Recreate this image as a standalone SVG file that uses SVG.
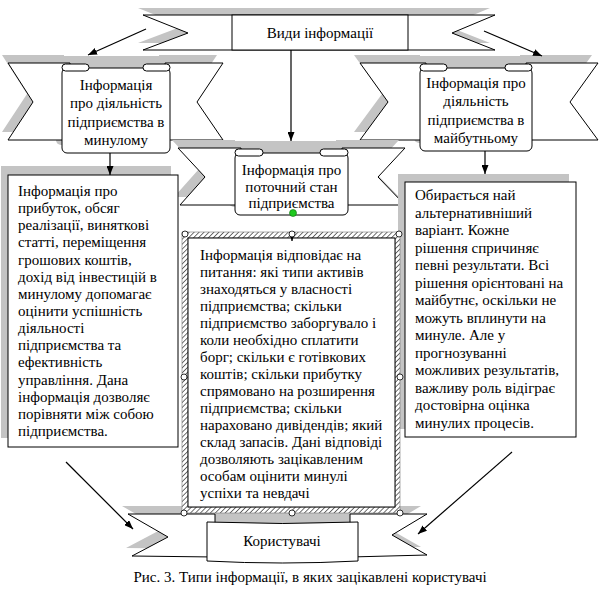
<svg xmlns="http://www.w3.org/2000/svg" width="600" height="591" viewBox="0 0 600 591">
<defs>
<style>
.sh{fill:#c4c4c4;stroke:none}
.w{fill:#fff;stroke:#000;stroke-width:1}
.t{font-family:'Liberation Serif','DejaVu Serif','Times New Roman',serif;font-size:15px;fill:#000}
.c{text-anchor:middle}
.ln{stroke:#000;stroke-width:1.2;fill:none;marker-end:url(#ah)}
.hd{fill:#fff;stroke:#000;stroke-width:0.8}
</style>
<marker id="ah" markerUnits="userSpaceOnUse" markerWidth="9" markerHeight="7" refX="9" refY="3.5" orient="auto">
<path d="M0,0 L9,3.5 L0,7 z" fill="#000"/>
</marker>
<pattern id="hatch" width="3.5" height="3.5" patternUnits="userSpaceOnUse" patternTransform="rotate(45)">
<rect width="3.5" height="3.5" fill="#fff"/>
<line x1="0" y1="0" x2="0" y2="3.5" stroke="#333" stroke-width="1.4"/>
</pattern>
</defs>
<rect width="600" height="591" fill="#fff"/>

<g id="node-types">
<polygon class="sh" points="138,8 490,8 447,26 490,43 138,43 183,26"/>
<polygon class="w" points="143,15 495,15 452,33 495,50 143,50 188,33"/>
<rect class="w" x="232" y="15" width="176" height="35"/>
<text class="t c" font-family="Liberation Serif, DejaVu Serif, serif" x="320" y="38">Види інформації</text>
</g>

<g id="node-past">
<g transform="translate(-6,-8)">
<polygon class="sh" points="8,63 70,63 70,140 8,140 33,102"/>
<polygon class="sh" points="165,63 223,63 197,102 223,140 165,140"/>
<rect class="sh" x="62" y="64" width="108" height="89" rx="5"/>
</g>
<polygon class="w" points="8,63 70,63 70,140 8,140 33,102"/>
<polygon class="w" points="165,63 223,63 197,102 223,140 165,140"/>
<rect class="w" x="62" y="68" width="108" height="85" rx="5"/>
<rect class="w" x="62" y="64" width="27" height="7" rx="3.5"/>
<rect class="w" x="143" y="64" width="27" height="7" rx="3.5"/>
<text class="t c" font-family="Liberation Serif, DejaVu Serif, serif" x="116" y="90">Інформація<tspan x="116" dy="18.3">про діяльність</tspan><tspan x="116" dy="18.3">підприємства в</tspan><tspan x="116" dy="18.3">минулому</tspan></text>
</g>

<g id="node-future">
<g transform="translate(-6,-8)">
<polygon class="sh" points="360,63 426,63 426,140 360,140 388,102"/>
<polygon class="sh" points="526,63 598,63 570,102 598,140 526,140"/>
<rect class="sh" x="420" y="64" width="112" height="87" rx="5"/>
</g>
<polygon class="w" points="360,63 426,63 426,140 360,140 388,102"/>
<polygon class="w" points="526,63 598,63 570,102 598,140 526,140"/>
<rect class="w" x="420" y="68" width="112" height="83" rx="5"/>
<rect class="w" x="420" y="64" width="27" height="7" rx="3.5"/>
<rect class="w" x="505" y="64" width="27" height="7" rx="3.5"/>
<text class="t c" font-family="Liberation Serif, DejaVu Serif, serif" x="476" y="88">Інформація про<tspan x="476" dy="18.3">діяльність</tspan><tspan x="476" dy="18.3">підприємства в</tspan><tspan x="476" dy="18.3">майбутньому</tspan></text>
</g>

<g id="node-current">
<g transform="translate(-6,-8)">
<polygon class="sh" points="178,148 241,148 241,205 180,205 205,177"/>
<polygon class="sh" points="342,148 405,148 378,177 405,205 342,205"/>
<rect class="sh" x="235" y="149" width="113" height="66" rx="5"/>
</g>
<polygon class="w" points="178,148 241,148 241,205 180,205 205,177"/>
<polygon class="w" points="342,148 405,148 378,177 405,205 342,205"/>
<rect class="w" x="235" y="153" width="113" height="62" rx="5"/>
<rect class="w" x="235" y="149" width="28" height="7" rx="3.5"/>
<rect class="w" x="320" y="149" width="28" height="7" rx="3.5"/>
<text class="t c" font-family="Liberation Serif, DejaVu Serif, serif" x="291.5" y="175">Інформація про<tspan x="291.5" dy="16.5">поточний стан</tspan><tspan x="291.5" dy="16.5">підприємства</tspan></text>
</g>

<g id="node-past-text">
<rect class="sh" x="1" y="166" width="170" height="272"/>
<rect class="w" x="8" y="175" width="170" height="272"/>
<text class="t" font-family="Liberation Serif, DejaVu Serif, serif" x="18" y="196">Інформація про<tspan x="18" dy="17.14">прибуток, обсяг</tspan><tspan x="18" dy="17.14">реалізації, виняткові</tspan><tspan x="18" dy="17.14">статті, переміщення</tspan><tspan x="18" dy="17.14">грошових коштів,</tspan><tspan x="18" dy="17.14">дохід від інвестицій в</tspan><tspan x="18" dy="17.14">минулому допомагає</tspan><tspan x="18" dy="17.14">оцінити успішність</tspan><tspan x="18" dy="17.14">діяльності</tspan><tspan x="18" dy="17.14">підприємства та</tspan><tspan x="18" dy="17.14">ефективність</tspan><tspan x="18" dy="17.14">управління. Дана</tspan><tspan x="18" dy="17.14">інформація дозволяє</tspan><tspan x="18" dy="17.14">порівняти між собою</tspan><tspan x="18" dy="17.14">підприємства.</tspan></text>
</g>

<g id="node-future-text">
<rect class="sh" x="398" y="174" width="171" height="255"/>
<rect class="w" x="405" y="182" width="171" height="255"/>
<text class="t" font-family="Liberation Serif, DejaVu Serif, serif" x="415" y="200">Обирається най<tspan x="415" dy="17.5">альтернативніший</tspan><tspan x="415" dy="17.5">варіант. Кожне</tspan><tspan x="415" dy="17.5">рішення спричиняє</tspan><tspan x="415" dy="17.5">певні результати. Всі</tspan><tspan x="415" dy="17.5">рішення орієнтовані на</tspan><tspan x="415" dy="17.5">майбутнє, оскільки не</tspan><tspan x="415" dy="17.5">можуть вплинути на</tspan><tspan x="415" dy="17.5">минуле. Але у</tspan><tspan x="415" dy="17.5">прогнозуванні</tspan><tspan x="415" dy="17.5">можливих результатів,</tspan><tspan x="415" dy="17.5">важливу роль відіграє</tspan><tspan x="415" dy="17.5">достовірна оцінка</tspan><tspan x="415" dy="17.5">минулих процесів.</tspan></text>
</g>

<g id="node-users">
<g transform="translate(-6,-8)">
<polygon class="sh" points="128,514 215,514 215,557 132,556 168,537"/>
<polygon class="sh" points="350,514 427,514 392,535 427,555 350,557"/>
<path class="sh" d="M207,514 H358 V561 Q282,565 207,561 Z"/>
</g>
<polygon class="w" points="128,514 215,514 215,557 132,556 168,537"/>
<polygon class="w" points="350,514 427,514 392,535 427,555 350,557"/>
<path class="w" d="M207,522 Q282,525 358,522 L358,561 Q282,565 207,561 Z"/>
<text class="t c" font-family="Liberation Serif, DejaVu Serif, serif" x="282" y="546">Користувачі</text>
</g>

<g id="node-current-text">
<path d="M182,232 H400 V513 H182 Z M188,238 V507 H395 V238 Z" fill="url(#hatch)" fill-rule="evenodd" stroke="#777" stroke-width="0.6"/>
<rect class="w" x="188" y="238" width="207" height="269"/>
<text class="t" font-family="Liberation Serif, DejaVu Serif, serif" x="200" y="260">Інформація відповідає на<tspan x="200" dy="17">питання: які типи активів</tspan><tspan x="200" dy="17">знаходяться у власності</tspan><tspan x="200" dy="17">підприємства; скільки</tspan><tspan x="200" dy="17">підприємство заборгувало і</tspan><tspan x="200" dy="17">коли необхідно сплатити</tspan><tspan x="200" dy="17">борг; скільки є готівкових</tspan><tspan x="200" dy="17">коштів; скільки прибутку</tspan><tspan x="200" dy="17">спрямовано на розширення</tspan><tspan x="200" dy="17">підприємства; скільки</tspan><tspan x="200" dy="17">нараховано дивідендів; який</tspan><tspan x="200" dy="17">склад запасів. Дані відповіді</tspan><tspan x="200" dy="17">дозволяють зацікавленим</tspan><tspan x="200" dy="17">особам оцінити минулі</tspan><tspan x="200" dy="17">успіхи та невдачі</tspan></text>
</g>

<g id="connectors">
<line class="ln" x1="146" y1="29" x2="88" y2="55"/>
<line class="ln" x1="484" y1="31" x2="542" y2="56"/>
<line class="ln" x1="291" y1="50" x2="291" y2="141"/>
<line class="ln" x1="110" y1="153" x2="110" y2="175"/>
<line class="ln" x1="485" y1="151" x2="485" y2="174"/>
<line class="ln" x1="292" y1="232" x2="292" y2="241"/>
<line class="ln" x1="66" y1="462" x2="133" y2="529"/>
<line class="ln" x1="512" y1="452" x2="418" y2="534"/>
</g>

<g id="handles">
<circle class="hd" cx="185" cy="234" r="3"/>
<circle class="hd" cx="292" cy="234" r="3"/>
<circle class="hd" cx="399" cy="234" r="3"/>
<circle class="hd" cx="184" cy="377" r="3"/>
<circle class="hd" cx="400" cy="377" r="3"/>
<circle class="hd" cx="184" cy="513" r="3"/>
<circle class="hd" cx="292" cy="513" r="3"/>
<circle class="hd" cx="400" cy="513" r="3"/>
<circle cx="293" cy="213" r="3.5" fill="#1ec81e" stroke="#0a6a0a" stroke-width="0.6"/>
</g>

<text id="caption" class="t c" font-family="Liberation Serif, DejaVu Serif, serif" x="310" y="582">Рис. 3. Типи інформації, в яких зацікавлені користувачі</text>
</svg>
